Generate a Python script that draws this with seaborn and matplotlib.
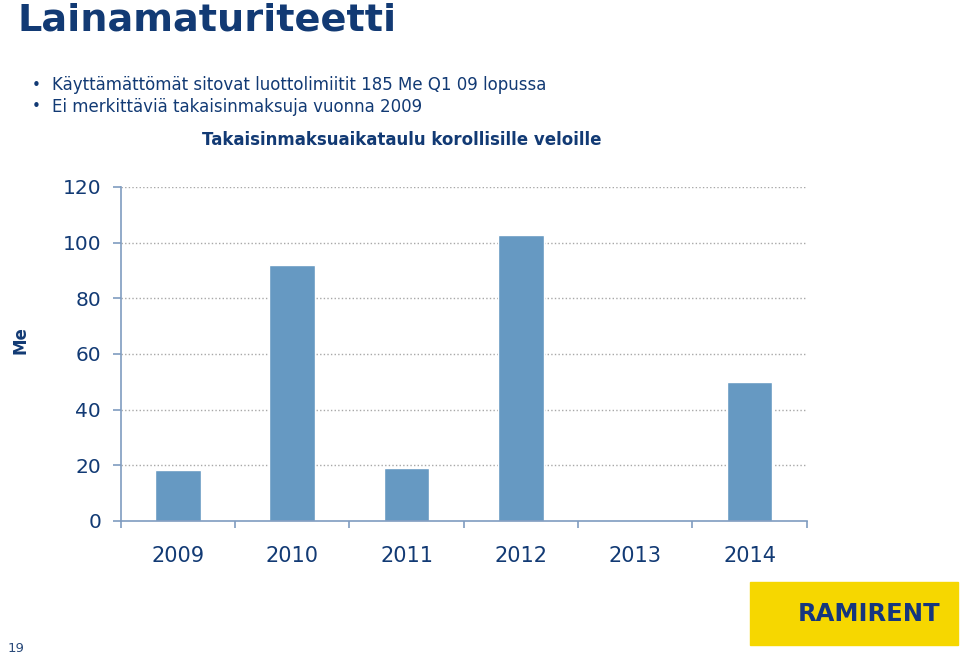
# %% Requirements and constants
import matplotlib
matplotlib.use("Agg")
import matplotlib.pyplot as plt
import seaborn as sns
import pandas as pd
from matplotlib.patches import Rectangle

years = ["2009", "2010", "2011", "2012", "2013", "2014"]
repayments = [18.2, 92.1, 19.2, 102.8, 0.0, 50.1]
y_ticks = [0, 20, 40, 60, 80, 100, 120]

title = "Lainamaturiteetti"
bullets = [
    "Käyttämättömät sitovat luottolimiitit 185 Me Q1 09 lopussa",
    "Ei merkittäviä takaisinmaksuja vuonna 2009",
]
chart_title = "Takaisinmaksuaikataulu korollisille veloille"

NAVY = "#123a74"
BAR = "#6699c2"
SPINE = "#7f9cc0"

# %% Figure
sns.set_theme(style="white")
plt.rcParams["font.family"] = ["DejaVu Sans"]

df = pd.DataFrame({"year": years, "value": repayments})

fig = plt.figure(figsize=(9.6, 6.55), dpi=100)
ax = fig.add_axes([0.1257, 0.2046, 0.7146, 0.51])

sns.barplot(data=df, x="year", y="value", color=BAR, width=0.4,
            saturation=1, ax=ax)

ax.set_xlim(-0.5, len(years) - 0.5)
ax.set_ylim(0, 120)
ax.set_yticks(y_ticks)
ax.set_xlabel("")
ax.set_ylabel("")

# dotted grid lines
for v in y_ticks[1:]:
    ax.axhline(v, color="#a8a8a8", lw=1.0, ls=(0, (1, 1.6)), zorder=0)

for side in ["top", "right"]:
    ax.spines[side].set_visible(False)
for side in ["left", "bottom"]:
    ax.spines[side].set_color(SPINE)
    ax.spines[side].set_linewidth(1.2)

ax.tick_params(axis="y", left=True, length=5.5, width=1.2, color=SPINE,
               labelsize=14.5, labelcolor=NAVY, pad=8.5)
ax.tick_params(axis="x", which="major", length=0, labelsize=15,
               labelcolor=NAVY, pad=18)
ax.set_xticks([i - 0.5 for i in range(len(years) + 1)], minor=True)
ax.tick_params(axis="x", which="minor", bottom=True, length=5.3, width=1.2,
               color=SPINE)

# texts around the chart
fig.text(0.018, 0.953, title, fontsize=27.5, fontweight="bold", color=NAVY,
         va="baseline", ha="left")
fig.text(0.033, 0.870, "•", fontsize=11, color=NAVY, va="center")
fig.text(0.054, 0.870, bullets[0], fontsize=12, color=NAVY, va="center")
fig.text(0.033, 0.837, "•", fontsize=11, color=NAVY, va="center")
fig.text(0.054, 0.837, bullets[1], fontsize=12, color=NAVY, va="center")
fig.text(0.418, 0.787, chart_title, fontsize=12, fontweight="bold",
         color=NAVY, va="center", ha="center")
fig.text(0.021, 0.481, "Me", fontsize=12, fontweight="bold", color=NAVY,
         rotation=90, va="center", ha="center")
fig.text(0.008, 0.0, "19", fontsize=9.5, color="#2a4a7a", va="bottom")

# logo box
fig.patches.append(Rectangle((0.781, 0.015), 0.217, 0.096,
                             transform=fig.transFigure, color="#f6d700",
                             zorder=0))
fig.text(0.905, 0.063, "RAMIRENT", fontsize=17.5, fontweight="bold",
         color="#15367e", va="center", ha="center")

fig.savefig("out.png", dpi=100)
